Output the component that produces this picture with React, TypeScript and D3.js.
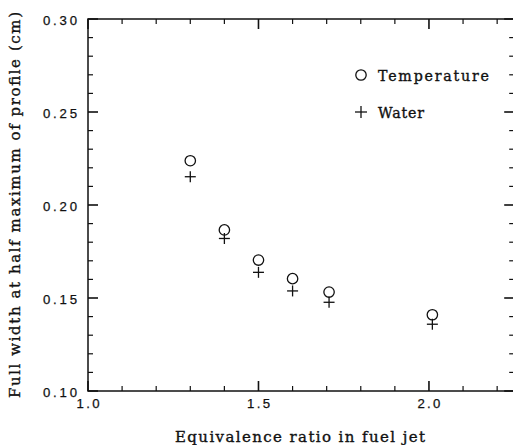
import React from "react";
import * as d3 from "d3";

const ratios = [1.3, 1.4, 1.5, 1.6, 1.707, 2.01];
const temperatureWidth = [0.2238, 0.1866, 0.1704, 0.1604, 0.1532, 0.141];
const waterWidth = [0.2152, 0.182, 0.1638, 0.1538, 0.1477, 0.1359];
const xTickLabels = ["1.0", "1.5", "2.0"];
const yTickLabels = ["0.10", "0.15", "0.20", "0.25", "0.30"];
const legendLabels = ["Temperature", "Water"];
const xTitle = "Equivalence ratio in fuel jet";
const yTitle = "Full width at half maximum of profile (cm)";

const W = 513;
const H = 445;

export default function App() {
  const x = d3.scaleLinear().domain([1.0, 2.25]).range([88, 514.2]);
  const y = d3.scaleLinear().domain([0.1, 0.3]).range([391, 19]);
  const [x0, x1] = x.range();
  const [yb, yt] = y.range();
  const ink = "#111";
  const titleFont = "'DejaVu Serif', 'Liberation Serif', serif";
  const numFont = "'Liberation Sans', Arial, sans-serif";

  const xMinor = d3.range(10, 23).map((v) => v / 10);
  const yMinor = d3.range(10, 31).map((v) => v / 100);
  const isMajorX = (v: number) => Math.abs(v * 2 - Math.round(v * 2)) < 1e-6;
  const isMajorY = (v: number) => Math.abs(v * 20 - Math.round(v * 20)) < 1e-6;

  const plus = (cx: number, cy: number, s: number, key: string) => (
    <g key={key} stroke={ink} strokeWidth={1.3}>
      <line x1={cx - s} x2={cx + s} y1={cy} y2={cy} />
      <line x1={cx} x2={cx} y1={cy - s} y2={cy + s} />
    </g>
  );

  const titleStroke = { stroke: ink, strokeWidth: 0.35 };
  const numStroke = { stroke: ink, strokeWidth: 0.25 };

  return (
    <svg width={W} height={H} style={{ position: "absolute", left: 0, top: 0, background: "#fff" }}>
      <rect x={0} y={0} width={W} height={H} fill="#fff" />
      {/* frame */}
      <rect x={x0} y={yt} width={x1 - x0} height={yb - yt} fill="none" stroke={ink} strokeWidth={1.5} />
      {xMinor.map((v) => {
        const len = isMajorX(v) ? 10 : 5;
        const px = x(v);
        return (
          <g key={"xt" + v} stroke={ink} strokeWidth={isMajorX(v) ? 1.6 : 1.2}>
            <line x1={px} x2={px} y1={yb} y2={yb - len} />
            <line x1={px} x2={px} y1={yt} y2={yt + len} />
          </g>
        );
      })}
      {yMinor.map((v) => {
        const len = isMajorY(v) ? 10 : 5;
        const py = y(v);
        return (
          <g key={"yt" + v} stroke={ink} strokeWidth={isMajorY(v) ? 1.6 : 1.2}>
            <line x1={x0} x2={x0 + len} y1={py} y2={py} />
            <line x1={x1} x2={x1 - len} y1={py} y2={py} />
          </g>
        );
      })}
      {/* tick labels */}
      {xTickLabels.map((t) => (
        <text key={"xl" + t} x={x(+t) - 11.5} y={yb + 16.5} fontFamily={numFont} fontSize={13.2}
          textLength={23} lengthAdjust="spacing" fill={ink} {...numStroke}>
          {t}
        </text>
      ))}
      {yTickLabels.map((t) => (
        <text key={"yl" + t} x={43} y={y(+t) + 5.5} fontFamily={numFont} fontSize={13.2}
          textLength={34} lengthAdjust="spacing" fill={ink} {...numStroke}>
          {t}
        </text>
      ))}
      {/* axis titles */}
      <text x={175} y={441.5} fontFamily={titleFont} fontSize={15} textLength={250} lengthAdjust="spacing" fill={ink} {...titleStroke}>
        {xTitle}
      </text>
      <text transform={`translate(20,398) rotate(-90)`} fontFamily={titleFont} fontSize={15}
        textLength={386} lengthAdjust="spacing" fill={ink} {...titleStroke}>
        {yTitle}
      </text>
      {/* data */}
      {ratios.map((r, i) => (
        <circle key={"c" + i} cx={x(r)} cy={y(temperatureWidth[i])} r={5.2} fill="none" stroke={ink} strokeWidth={1.3} />
      ))}
      {ratios.map((r, i) => plus(x(r), y(waterWidth[i]), 5.5, "p" + i))}
      {/* legend */}
      <circle cx={361} cy={75} r={5.2} fill="none" stroke={ink} strokeWidth={1.3} />
      <text x={378} y={81} fontFamily={titleFont} fontSize={14.2} textLength={111} lengthAdjust="spacing" fill={ink} {...titleStroke}>
        {legendLabels[0]}
      </text>
      {plus(361, 112, 6, "lp")}
      <text x={378} y={118} fontFamily={titleFont} fontSize={14.2} textLength={46} lengthAdjust="spacing" fill={ink} {...titleStroke}>
        {legendLabels[1]}
      </text>
    </svg>
  );
}
